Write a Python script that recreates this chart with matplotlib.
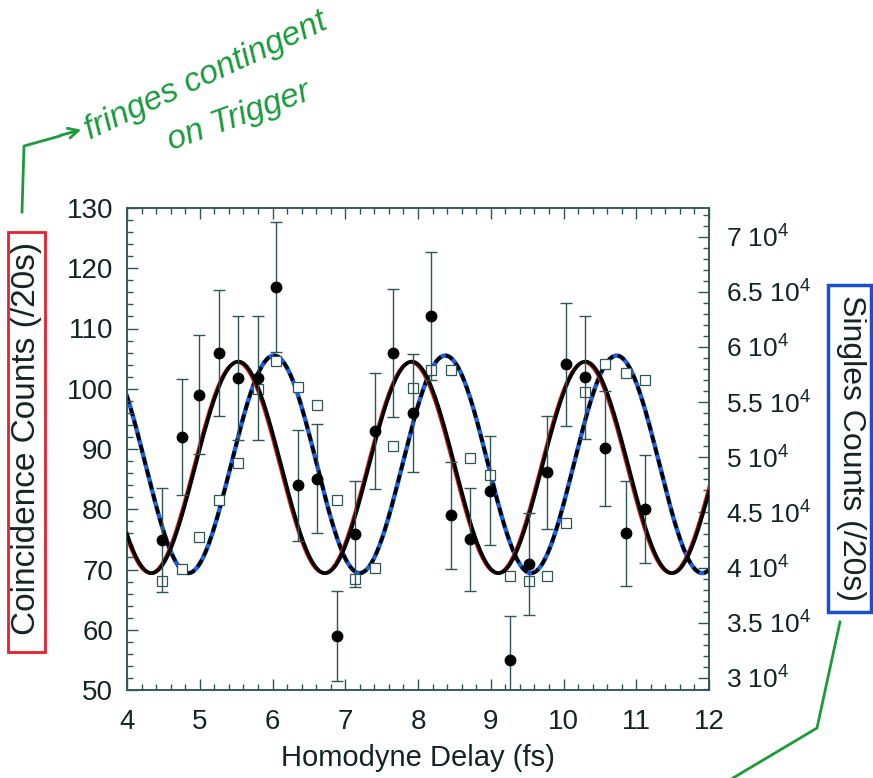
import matplotlib.pyplot as plt
import numpy as np
from matplotlib.ticker import MultipleLocator, FuncFormatter
from matplotlib.patches import Rectangle, FancyArrowPatch
from matplotlib.lines import Line2D

plt.rcParams['font.family'] = ['Liberation Sans', 'DejaVu Sans']
plt.rcParams['mathtext.default'] = 'regular'

W, H = 873, 778

# data
delay = [4.48, 4.75, 4.99, 5.27, 5.52, 5.80, 6.05, 6.35, 6.61, 6.89, 7.14, 7.41, 7.65,
         7.93, 8.18, 8.46, 8.72, 8.99, 9.27, 9.53, 9.78, 10.04, 10.30, 10.57, 10.86, 11.12]
coinc = [74.9, 92.0, 99.0, 105.9, 101.8, 101.8, 116.9, 84.0, 85.1, 59.0, 75.9, 93.0, 105.9,
         95.9, 112.1, 79.0, 75.0, 83.1, 55.0, 70.9, 86.1, 104.1, 101.9, 90.1, 76.0, 80.0]
coinc_err = [8.7, 9.6, 9.9, 10.5, 10.3, 10.3, 10.8, 9.2, 9.0, 7.5, 8.8, 9.6, 10.6,
             9.8, 10.6, 8.9, 8.6, 9.1, 7.2, 8.4, 9.3, 10.2, 10.2, 9.6, 8.7, 9.0]
singles = [38800, 39900, 42800, 46100, 49500, 56200, 58700, 56400, 54700, 46100, 39000, 40000, 51000,
           56300, 57900, 57900, 49900, 48400, 39200, 38800, 39200, 44000, 55900, 58500, 57600, 57000]

# fit curves: mean, amplitude, period (fs), first peak (fs)
coinc_fit = (86.95, 17.55, 2.385, 5.53)
coinc_fit2 = (86.9, 17.5, 2.385, 5.51)
singles_fit = (49360, 9860, 2.355, 6.02)

ink = '#2f5654'
txt = '#142424'


def fringe(x, p):
    mean, amp, period, peak = p
    return mean + amp * np.cos(2 * np.pi * (x - peak) / period)


def px(x, y):
    return (x / W, 1 - y / H)


fig = plt.figure(figsize=(W / 100, H / 100), dpi=100)
ax = fig.add_axes([127 / W, 1 - 690 / H, 582 / W, 482 / H])
ax2 = ax.twinx()
ax.set_zorder(ax2.get_zorder() + 1)
ax.patch.set_visible(False)

xs = np.linspace(4, 12, 600)

# singles (right axis)
ax2.plot(xs, fringe(xs, singles_fit), color='#1f5fe0', lw=3.2, zorder=2)
dash, = ax2.plot(xs, fringe(xs, singles_fit), color='black', lw=2.6, zorder=3)
dash.set_dashes((2.2, 1.3))
ax2.plot(delay, singles, 's', ms=7, mfc='white', mec=ink, mew=0.9, zorder=4)

# coincidences (left axis)
ax.plot(xs, fringe(xs, coinc_fit2), color='#e02020', lw=2.2, zorder=2)
ax.plot(xs, fringe(xs, coinc_fit), color='black', lw=2.7, zorder=3)
ax.errorbar(delay, coinc, yerr=coinc_err, fmt='o', ms=7.5, color='black',
            ecolor=ink, elinewidth=1.0, capsize=4, capthick=1.0, zorder=4)

ax.set_xlim(4, 12)
ax.set_ylim(50, 130)
ax2.set_ylim(28900, 72600)

ax.xaxis.set_major_locator(MultipleLocator(1))
ax.xaxis.set_minor_locator(MultipleLocator(0.2))
ax.yaxis.set_major_locator(MultipleLocator(10))
ax.yaxis.set_minor_locator(MultipleLocator(2))
ax2.yaxis.set_major_locator(MultipleLocator(5000))
ax2.yaxis.set_minor_locator(MultipleLocator(1000))
ax2.yaxis.set_major_formatter(FuncFormatter(lambda v, pos: f'{v / 1e4:g} $10^4$'))

ax.tick_params(which='both', direction='in', top=True, right=False, color=ink,
               labelcolor=txt, labelsize=20)
ax.tick_params(axis='x', pad=14)
ax.tick_params(axis='y', pad=10)
ax.tick_params(which='major', length=8, width=1)
ax.tick_params(which='minor', length=4, width=1)
ax2.tick_params(which='both', direction='in', color=ink, labelcolor=txt,
                labelsize=19, pad=12)
ax2.tick_params(which='major', length=8, width=1)
ax2.tick_params(which='minor', length=4, width=1)
for a in (ax, ax2):
    for s in a.spines.values():
        s.set_color(ink)
        s.set_linewidth(1.1)

fig.text(*px(418, 758), 'Homodyne Delay (fs)', ha='center', va='center', fontsize=21, color=txt)
fig.text(*px(27, 438), 'Coincidence Counts (/20s)', ha='center', va='center', rotation=90,
         fontsize=24, color=txt)
fig.text(*px(851, 448), 'Singles Counts (/20s)', ha='center', va='center', rotation=-90,
         fontsize=23, color=txt)

# hand-drawn marks
green = '#1c9a3c'
fig.add_artist(Rectangle(px(8, 652), 37 / W, 420 / H, transform=fig.transFigure,
                         fill=False, ec='#e8202a', lw=2))
fig.add_artist(Rectangle(px(828, 612), 43 / W, 327 / H, transform=fig.transFigure,
                         fill=False, ec='#1a4fd0', lw=2.5))
fig.add_artist(Line2D([px(22, 212)[0], px(24, 146)[0], px(60, 136)[0]],
                      [px(22, 212)[1], px(24, 146)[1], px(60, 136)[1]],
                      transform=fig.transFigure, color=green, lw=2))
fig.add_artist(FancyArrowPatch(px(58, 136), px(84, 129), transform=fig.transFigure,
                               arrowstyle='->', mutation_scale=18, color=green, lw=2))
fig.add_artist(Line2D([px(840, 622)[0], px(817, 728)[0], px(733, 778)[0]],
                      [px(840, 622)[1], px(817, 728)[1], px(733, 778)[1]],
                      transform=fig.transFigure, color=green, lw=2))
fig.text(*px(90, 140), 'fringes contingent', rotation=25, rotation_mode='anchor',
         ha='left', va='baseline', fontsize=24, color=green, style='italic')
fig.text(*px(172, 150), 'on Trigger', rotation=20, rotation_mode='anchor',
         ha='left', va='baseline', fontsize=24, color=green, style='italic')

fig.savefig('out.png', dpi=100)
